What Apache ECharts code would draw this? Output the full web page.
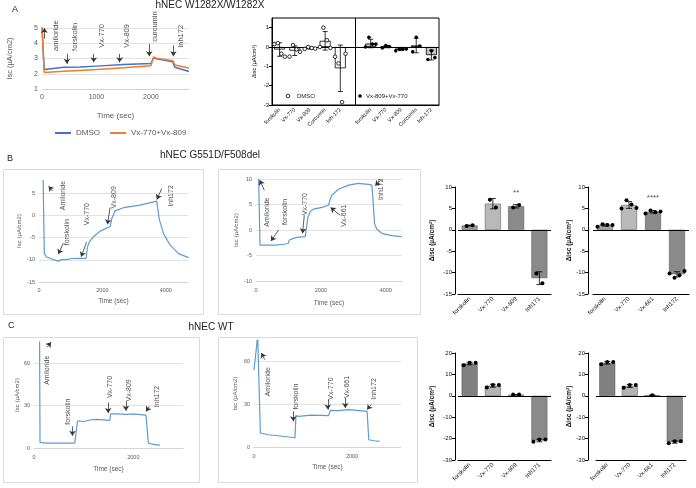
<!DOCTYPE html>
<html>
<head>
<meta charset="utf-8">
<script src="https://cdn.jsdelivr.net/npm/echarts@6/dist/echarts.min.js"></script>
<style>
html, body { margin: 0; padding: 0; background: #fff; }
#main { width: 696px; height: 488px; }
</style>
</head>
<body>
<div id="main"></div>
<script>
// ---------- A: W1282X/W1282X trace ----------
var aTime = [0, 40, 400, 700, 1000, 1500, 2000, 2050, 2100, 2400, 2440, 2700];
var aDmso = [5.1, 2.28, 2.42, 2.44, 2.5, 2.6, 2.67, 3.05, 2.98, 2.78, 2.42, 2.15];
var aVx = [5.0, 2.08, 2.16, 2.22, 2.28, 2.4, 2.53, 3.1, 3.02, 2.86, 2.58, 2.38];
var aNotes = ['amiloride', 'forskolin', 'Vx-770', 'Vx-809', 'curcumin', 'Inh172'];
var aNoteT = [260, 600, 1100, 1565, 2080, 2560];
var aNoteY = [3.5, 3.5, 3.7, 3.7, 4.1, 3.7];
var aArrows = [[45, 4.3, 45, 5.0], [457, 3.3, 457, 2.65], [950, 3.3, 950, 2.75], [1426, 3.3, 1426, 2.75], [1970, 3.95, 1970, 3.15], [2414, 3.85, 2414, 3.15]];

// ---------- A: delta Isc bars ----------
var abCats = ['forskolin', 'Vx-770', 'Vx-809', 'Curcumin', 'Inh-172'];
var abDmsoMean = [-0.13, -0.19, -0.06, 0.32, -1.1];
var abDmsoSd = [0.35, 0.25, 0.05, 0.48, 1.2];
var abDmsoPts = [[0.15, 0.2, -0.35, -0.5], [-0.5, 0.1, -0.12, -0.25], [-0.1, 0, -0.05, -0.08], [0.0, 1.0, 0.35, -0.05], [-0.5, -0.85, -2.85, -0.35]];
var abVxMean = [0.18, 0.02, -0.14, 0.08, -0.42];
var abVxSd = [0.22, 0.06, 0.04, 0.38, 0.25];
var abVxPts = [[0.0, 0.5, 0.15, 0.15], [-0.05, 0.08, 0.02], [-0.2, -0.12, -0.12, -0.1], [-0.25, 0.5, 0.05], [-0.65, -0.2, -0.55]];

// ---------- B: G551D/F508del traces ----------
var b1Time = [130, 168, 242, 453, 600, 642, 716, 874, 1032, 1295, 1485, 1527, 1590, 1716, 1927, 2138, 2243, 2296, 2400, 2664, 3190, 3717, 3738, 3801, 3928, 4138, 4402, 4717];
var b1Isc = [8.0, -8.6, -9.35, -9.95, -10.3, -10.7, -9.95, -9.95, -9.7, -9.65, -9.7, -7.1, -5.95, -4.8, -3.55, -2.8, -2.55, -0.7, 1.05, 1.75, 2.35, 3.25, 1.95, -1.05, -4.1, -6.7, -8.6, -9.5];
var b1Notes = ['Amiloride', 'forskolin', 'Vx-770', 'Vx-809', 'Inh172'];
var b1NoteT = [769, 874, 1527, 2380, 4160];
var b1NoteY = [1.2, -6.7, -2.2, 1.6, 2.0];
var b1Arrows = [[432, 5.5, 305, 6.6], [769, -6.2, 611, -8.7], [1500, -6, 1330, -9.3], [2243, 1.8, 2160, -2.0], [3875, 6.1, 3717, 3.6]];

var b2Time = [82, 123, 595, 903, 1000, 1026, 1160, 1262, 1518, 1570, 1600, 1672, 1775, 2031, 2237, 2278, 2339, 2544, 2852, 3160, 3468, 3570, 3601, 3653, 3724, 3878, 4186, 4494];
var b2Isc = [10, -2.95, -2.95, -2.75, -2.6, -1.95, -1.65, -1.45, -1.3, -1.3, 2.5, 3.6, 4.1, 4.45, 4.85, 5.9, 6.85, 8.0, 8.8, 9.15, 8.95, 8.8, 6.5, 1.3, 0.15, -0.65, -1.1, -1.3];
var b2Notes = ['Amiloride', 'forskolin', 'Vx-770', 'Vx-661', 'Inh172'];
var b2NoteT = [339, 903, 1518, 2719, 3848];
var b2NoteY = [0.65, 1.0, 2.9, 0.65, 5.9];
var b2Arrows = [[256, 7.8, 113, 9.8], [698, 0, 462, -2.15], [1488, 2.9, 1436, -0.65], [2596, 2.9, 2298, 4.4], [3858, 9.9, 3673, 8.7]];

// ---------- B: delta Isc bars ----------
var b3Cats = ['forskolin', 'Vx-770', 'Vx-809', 'Inh171'];
var b3Mean = [1.0, 6.1, 5.5, -11.3];
var b3Sd = [0.1, 1.2, 0.4, 1.5];
var b3Pts = [[0.9, 1.05], [7.0, 5.2], [5.2, 5.8], [-10.2, -12.5]];
var b4Cats = ['forskolin', 'Vx-770', 'Vx-661', 'Inh172'];
var b4Mean = [1.1, 5.8, 4.2, -10.4];
var b4Sd = [0.25, 0.8, 0.3, 0.6];
var b4Pts = [[0.7, 1.3, 1.1, 1.1], [5.0, 6.9, 5.9, 5.1], [3.8, 4.5, 4.1, 4.3], [-10.2, -11.2, -10.6, -9.6]];

// ---------- C: WT traces ----------
var c1Time = [112, 121, 249, 821, 855, 875, 922, 989, 1124, 1258, 1528, 1541, 1662, 1864, 1999, 2255, 2302, 2369, 2537];
var c1Isc = [80, 4.0, 3.5, 3.5, 4.0, 18.8, 19.3, 18.6, 19.8, 20.2, 19.5, 24.2, 24.2, 23.8, 24.2, 23.3, 3.5, 2.8, 2.1];
var c1Notes = ['Amiloride', 'forskolin', 'Vx-770', 'Vx-809', 'Inh172'];
var c1NoteT = [262, 686, 1528, 1911, 2470];
var c1NoteY = [44.7, 16.5, 35.3, 32.9, 28.9];
var c1Arrows = [[262, 71.3, 343, 74.8], [774, 15.3, 774, 8.7], [1494, 32.2, 1494, 24.7], [1851, 32.9, 1851, 26.4], [2322, 29.4, 2255, 25.9]];

var c2Time = [0, 75, 105, 130, 288, 493, 836, 856, 904, 1178, 1521, 1562, 1726, 1932, 2308, 2343, 2445, 2562];
var c2Isc = [54, 78, 78, 9.8, 8.6, 7.9, 6.5, 22, 21.5, 22.4, 22, 25.7, 25.5, 26.2, 25, 5.1, 4.4, 4.0];
var c2Notes = ['Amiloride', 'forskolin', 'Vx-770', 'Vx-661', 'Inh172'];
var c2NoteT = [288, 849, 1576, 1897, 2459];
var c2NoteY = [35.5, 26.2, 33.2, 34.3, 33.2];
var c2Arrows = [[219, 61.2, 151, 65.9], [801, 25, 801, 18], [1507, 33.2, 1507, 26.2], [1863, 34.3, 1863, 27.3], [2391, 29.7, 2308, 26.2]];

// ---------- C: delta Isc bars ----------
var c3Cats = ['forskolin', 'Vx-770', 'Vx-809', 'Inh171'];
var c3Mean = [15.1, 4.7, 0.5, -20.9];
var c3Sd = [0.6, 0.7, 0.05, 0.6];
var c3Pts = [[14.3, 15.5, 15.4], [3.9, 5.1, 5.1], [0.6, 0.6], [-21.5, -20.4, -20.4]];
var c4Cats = ['forskolin', 'Vx-770', 'Vx-661', 'Inh172'];
var c4Mean = [15.4, 4.6, 0.3, -21.6];
var c4Sd = [0.6, 0.7, 0, 0.55];
var c4Pts = [[14.7, 15.8, 15.8], [3.8, 5.0, 5.0], [0.3], [-22.2, -21.2, -21.2]];

var FONT = 'Liberation Sans, Arial, sans-serif';
var XL_TEXT = '#595959';
var TRACE_BLUE = '#5b9bd5';

var option = {
    animation: false,
    textStyle: { fontFamily: FONT },
    grid: [], xAxis: [], yAxis: [], series: [], graphic: [],
    legend: {
        data: ['DMSO', 'Vx-770+Vx-809'],
        left: 50, top: 124, icon: 'rect', itemWidth: 16, itemHeight: 2, itemGap: 10,
        textStyle: { fontSize: 8, color: XL_TEXT, fontFamily: FONT }
    }
};

function zip (t, v) {
    return t.map(function (x, i) { return [x, v[i]]; });
}

// Excel style trace chart
function traceChart (c) {
    var gi = option.grid.length;
    option.grid.push({ left: c.left, top: c.top, width: c.width, height: c.height });
    option.xAxis.push({
        gridIndex: gi, type: 'value', min: 0, max: c.xMax, interval: c.xInt,
        name: 'Time (sec)', nameLocation: 'middle', nameGap: c.xGap,
        nameTextStyle: { color: XL_TEXT, fontSize: c.nameFs, fontFamily: FONT },
        axisLine: { onZero: false, lineStyle: { color: '#d4d4d4' } },
        axisTick: { show: false }, splitLine: { show: false },
        axisLabel: {
            color: XL_TEXT, fontSize: c.tickFs, margin: c.xMargin, fontFamily: FONT,
            showMaxLabel: c.xMax % c.xInt === 0,
            formatter: function (v) { return String(v); }
        }
    });
    option.yAxis.push({
        gridIndex: gi, type: 'value', min: c.yMin, max: c.yMax, interval: c.yInt,
        name: 'Isc (µA/cm2)', nameLocation: 'middle', nameGap: c.yGap,
        nameTextStyle: { color: XL_TEXT, fontSize: c.nameFs - 0.5, fontFamily: FONT },
        axisLine: { show: false }, axisTick: { show: false }, splitLine: { show: false },
        axisLabel: { color: XL_TEXT, fontSize: c.tickFs, margin: 4, fontFamily: FONT, showMaxLabel: (c.yMax - c.yMin) % c.yInt === 0 }
    });
    // horizontal grid lines, one per tick above the bottom axis
    var gridLines = [];
    for (var v = c.yMin + c.yInt; v <= c.yMax; v += c.yInt) gridLines.push({ yAxis: v });
    c.lines.forEach(function (ln, k) {
        var s = {
            type: 'line', name: ln.name, xAxisIndex: gi, yAxisIndex: gi,
            data: zip(ln.t, ln.v), showSymbol: false, symbol: 'none',
            lineStyle: { color: ln.color, width: c.lw }, itemStyle: { color: ln.color }, z: 3
        };
        if (k === 0) {
            s.markLine = {
                silent: true, symbol: 'none', label: { show: false }, z: 1,
                lineStyle: { color: '#e2e2e2', width: 1, type: 'solid' }, data: gridLines
            };
        }
        option.series.push(s);
    });
    // arrows
    option.series.push({
        type: 'lines', coordinateSystem: 'cartesian2d', xAxisIndex: gi, yAxisIndex: gi,
        symbol: ['none', 'arrow'], symbolSize: 5, silent: true, z: 4,
        lineStyle: { color: '#333', width: 0.8, opacity: 1 },
        data: c.arrows.map(function (a) { return { coords: [[a[0], a[1]], [a[2], a[3]]] }; })
    });
    // rotated labels
    option.series.push({
        type: 'scatter', xAxisIndex: gi, yAxisIndex: gi, symbolSize: 1, silent: true, z: 6,
        itemStyle: { color: 'rgba(0,0,0,0)' },
        label: {
            show: true, formatter: '{b}', rotate: 90, position: 'inside', align: 'left', verticalAlign: 'middle',
            fontSize: c.noteFs || 7, color: '#222', fontFamily: FONT
        },
        data: c.notes.map(function (n, i) { return { name: n, value: [c.noteT[i], c.noteY[i]] }; })
    });
}

// error bars + dots, shared by the GraphPad style bar charts
function errorSeries (gi, cats, means, sds, cap) {
    var data = [];
    means.forEach(function (m, i) {
        if (m === '-' || m == null) return;
        data.push([cats[i], m - sds[i], m + sds[i]]);
    });
    option.series.push({
        type: 'custom', xAxisIndex: gi, yAxisIndex: gi, silent: true, z: 5,
        renderItem: function (params, api) {
            var lo = api.coord([api.value(0), api.value(1)]);
            var hi = api.coord([api.value(0), api.value(2)]);
            var st = { stroke: '#000', lineWidth: 0.8 };
            return {
                type: 'group', children: [
                    { type: 'line', shape: { x1: lo[0], y1: lo[1], x2: hi[0], y2: hi[1] }, style: st },
                    { type: 'line', shape: { x1: lo[0] - cap, y1: lo[1], x2: lo[0] + cap, y2: lo[1] }, style: st },
                    { type: 'line', shape: { x1: hi[0] - cap, y1: hi[1], x2: hi[0] + cap, y2: hi[1] }, style: st }
                ]
            };
        },
        data: data
    });
}

function dotSeries (gi, cats, pts, r, spread, hollow) {
    var data = [];
    pts.forEach(function (arr, i) {
        if (!arr) return;
        arr.forEach(function (v, j) { data.push([cats[i], v, j, arr.length]); });
    });
    option.series.push({
        type: 'custom', xAxisIndex: gi, yAxisIndex: gi, silent: true, z: 6,
        renderItem: function (params, api) {
            var p = api.coord([api.value(0), api.value(1)]);
            var dx = (api.value(2) - (api.value(3) - 1) / 2) * spread;
            return {
                type: 'circle', shape: { cx: p[0] + dx, cy: p[1], r: r },
                style: hollow ? { fill: '#fff', stroke: '#000', lineWidth: 0.8 } : { fill: '#000' }
            };
        },
        data: data
    });
}

// GraphPad style bar chart
function barChart (c) {
    var gi = option.grid.length;
    option.grid.push({ left: c.left, top: c.top, width: c.width, height: c.height });
    option.xAxis.push({
        gridIndex: gi, type: 'category', data: c.cats,
        axisLine: { onZero: false, lineStyle: { color: '#000', width: 1 } },
        axisTick: { alignWithLabel: true, length: 3, lineStyle: { color: '#000' } },
        axisLabel: { rotate: 45, interval: 0, fontSize: 6, color: '#111', margin: 4, fontFamily: FONT }
    });
    option.yAxis.push({
        gridIndex: gi, type: 'value', min: c.yMin, max: c.yMax, interval: c.yInt, offset: c.offset,
        name: 'Δisc (µA/cm²)', nameLocation: 'middle', nameGap: c.nameGap,
        nameTextStyle: { fontSize: 6.5, color: '#111', fontWeight: 'bold', fontFamily: FONT },
        axisLine: { show: true, lineStyle: { color: '#000' } },
        axisTick: { show: true, length: 3, lineStyle: { color: '#000' } },
        splitLine: { show: false },
        axisLabel: { fontSize: 6, color: '#111', margin: 3, fontFamily: FONT }
    });
    option.series.push({
        type: 'bar', xAxisIndex: gi, yAxisIndex: gi, barWidth: c.barWidth, z: 2,
        data: c.means.map(function (m, i) {
            return { value: m, itemStyle: { color: c.colors[i], borderColor: '#555', borderWidth: 0.5 } };
        }),
        markLine: {
            silent: true, symbol: 'none', label: { show: false },
            lineStyle: { color: '#000', width: 1, type: 'solid' }, data: [{ yAxis: 0 }]
        }
    });
    errorSeries(gi, c.cats, c.means, c.sds, 3);
    dotSeries(gi, c.cats, c.pts, 2, c.spread, false);
    if (c.sig) {
        option.series.push({
            type: 'scatter', xAxisIndex: gi, yAxisIndex: gi, symbolSize: 1, silent: true, z: 6,
            itemStyle: { color: 'rgba(0,0,0,0)' },
            label: { show: true, position: 'inside', formatter: c.sig, fontSize: 8, color: '#222', fontFamily: FONT },
            data: [[c.cats[c.sigIdx], c.sigY]]
        });
    }
}

// ---------- panel A ----------
traceChart({
    left: 42, top: 28, width: 147, height: 61,
    xMax: 2700, xInt: 1000, yMin: 1, yMax: 5, yInt: 1,
    xGap: 23, yGap: 28, xMargin: 5, tickFs: 7, nameFs: 8, lw: 1.5, noteFs: 7.5,
    lines: [
        { name: 'DMSO', t: aTime, v: aDmso, color: '#4472c4' },
        { name: 'Vx-770+Vx-809', t: aTime, v: aVx, color: '#ed7d31' }
    ],
    notes: aNotes, noteT: aNoteT, noteY: aNoteY, arrows: aArrows
});

// A bars: two groups separated by an empty slot
(function () {
    var cats = abCats.concat([' ']).concat(abCats.map(function (s) { return s + '\u200b'; }));
    var gi = option.grid.length;
    option.grid.push({ left: 272, top: 18, width: 167, height: 87, show: true, borderColor: '#000', borderWidth: 1 });
    option.xAxis.push({
        gridIndex: gi, type: 'category', data: cats,
        axisLine: { onZero: false, lineStyle: { color: '#000' } },
        axisTick: { alignWithLabel: true, length: 3, lineStyle: { color: '#000' }, interval: function (i) { return i !== 5; } },
        axisLabel: { rotate: 45, interval: 0, fontSize: 5.5, color: '#111', margin: 4, fontFamily: FONT }
    });
    option.yAxis.push({
        gridIndex: gi, type: 'value', min: -3, max: 1.5, interval: 1,
        name: 'Δisc (µA/cm²)', nameLocation: 'middle', nameGap: 15,
        nameTextStyle: { fontSize: 5.5, color: '#111', fontFamily: FONT },
        axisLine: { show: true, lineStyle: { color: '#000' } },
        axisTick: { show: true, length: 3, lineStyle: { color: '#000' } },
        splitLine: { show: false },
        axisLabel: { fontSize: 6, color: '#111', margin: 3, showMaxLabel: false, fontFamily: FONT }
    });
    var means = abDmsoMean.concat(['-']).concat(abVxMean);
    var sds = abDmsoSd.concat([0]).concat(abVxSd);
    option.series.push({
        type: 'bar', xAxisIndex: gi, yAxisIndex: gi, barWidth: 11, z: 2,
        data: means.map(function (m, i) {
            return { value: m, itemStyle: { color: i < 5 ? '#fff' : '#c4c4c4', borderColor: '#000', borderWidth: 0.8 } };
        }),
        markLine: {
            silent: true, symbol: 'none', label: { show: false },
            lineStyle: { color: '#000', width: 1, type: 'solid' },
            data: [{ yAxis: 0 }, { xAxis: 5 }]
        }
    });
    errorSeries(gi, cats, means, sds, 2.5);
    dotSeries(gi, cats, abDmsoPts.concat([null]), 1.8, 3.5, true);
    dotSeries(gi, cats, [null, null, null, null, null, null].concat(abVxPts), 1.8, 3.5, false);
})();

// ---------- panel B ----------
traceChart({
    left: 39, top: 180, width: 149, height: 102,
    xMax: 4700, xInt: 2000, yMin: -15, yMax: 8, yInt: 5,
    xGap: 16, yGap: 17, xMargin: 5, tickFs: 5.5, nameFs: 6.5, lw: 1.2,
    lines: [{ name: 'B1', t: b1Time, v: b1Isc, color: TRACE_BLUE }],
    notes: b1Notes, noteT: b1NoteT, noteY: b1NoteY, arrows: b1Arrows
});
traceChart({
    left: 256, top: 179, width: 146, height: 102,
    xMax: 4500, xInt: 2000, yMin: -10, yMax: 10, yInt: 5,
    xGap: 19, yGap: 17, xMargin: 6, tickFs: 5.5, nameFs: 6.5, lw: 1.2,
    lines: [{ name: 'B2', t: b2Time, v: b2Isc, color: TRACE_BLUE }],
    notes: b2Notes, noteT: b2NoteT, noteY: b2NoteY, arrows: b2Arrows
});
barChart({
    left: 458, top: 187, width: 93, height: 107, offset: 3, nameGap: 19,
    yMin: -15, yMax: 10, yInt: 5, barWidth: 16, spread: 6,
    cats: b3Cats, means: b3Mean, sds: b3Sd, pts: b3Pts,
    colors: ['#959595', '#b9b9b9', '#8a8a8a', '#8a8a8a'],
    sig: '**', sigIdx: 2, sigY: 8.6
});
barChart({
    left: 593, top: 187, width: 96, height: 107, offset: 5, nameGap: 15,
    yMin: -15, yMax: 10, yInt: 5, barWidth: 16, spread: 5,
    cats: b4Cats, means: b4Mean, sds: b4Sd, pts: b4Pts,
    colors: ['#a3a3a3', '#b9b9b9', '#8a8a8a', '#8a8a8a'],
    sig: '****', sigIdx: 2, sigY: 7.4
});

// ---------- panel C ----------
traceChart({
    left: 34, top: 342, width: 149, height: 106,
    xMax: 3000, xInt: 2000, yMin: 0, yMax: 75, yInt: 30,
    xGap: 18, yGap: 13, xMargin: 6, tickFs: 5.5, nameFs: 6.5, lw: 1.2,
    lines: [{ name: 'C1', t: c1Time, v: c1Isc, color: TRACE_BLUE }],
    notes: c1Notes, noteT: c1NoteT, noteY: c1NoteY, arrows: c1Arrows
});
traceChart({
    left: 254, top: 340, width: 147, height: 107,
    xMax: 3000, xInt: 2000, yMin: 0, yMax: 75, yInt: 30,
    xGap: 17, yGap: 16, xMargin: 6, tickFs: 5.5, nameFs: 6.5, lw: 1.2,
    lines: [{ name: 'C2', t: c2Time, v: c2Isc, color: TRACE_BLUE }],
    notes: c2Notes, noteT: c2NoteT, noteY: c2NoteY, arrows: c2Arrows
});
barChart({
    left: 458, top: 353, width: 93, height: 107, offset: 3, nameGap: 19,
    yMin: -30, yMax: 20, yInt: 10, barWidth: 16, spread: 6,
    cats: c3Cats, means: c3Mean, sds: c3Sd, pts: c3Pts,
    colors: ['#808080', '#b3b3b3', '#9a9a9a', '#8a8a8a']
});
barChart({
    left: 596, top: 353, width: 90, height: 107, offset: 8, nameGap: 14,
    yMin: -30, yMax: 20, yInt: 10, barWidth: 16, spread: 6,
    cats: c4Cats, means: c4Mean, sds: c4Sd, pts: c4Pts,
    colors: ['#808080', '#b3b3b3', '#9a9a9a', '#8a8a8a']
});

// ---------- titles, panel letters, chart boxes ----------
function txt (x, y, s, fs, align) {
    return { type: 'text', x: x, y: y, z: 10, silent: true,
        style: { text: s, fontSize: fs, fill: '#222', fontFamily: FONT, align: align || 'left', verticalAlign: 'middle' } };
}
function box (x, y, w, h) {
    return { type: 'rect', z: -1, silent: true, shape: { x: x + 0.5, y: y + 0.5, width: w, height: h },
        style: { fill: 'none', stroke: '#d9d9d9', lineWidth: 1 } };
}
option.graphic = [
    txt(12, 10, 'A', 9), txt(7, 159, 'B', 9), txt(8, 326, 'C', 9),
    txt(210, 5, 'hNEC W1282X/W1282X', 10, 'center'),
    txt(210, 155, 'hNEC G551D/F508del', 10, 'center'),
    txt(211, 327, 'hNEC WT', 10, 'center'),
    box(3, 169, 200, 145), box(218, 169, 202, 145),
    box(3, 337, 196, 145), box(218, 337, 199, 145),
    { type: 'circle', z: 10, silent: true, shape: { cx: 288, cy: 96, r: 1.8 }, style: { fill: '#fff', stroke: '#000', lineWidth: 0.8 } },
    txt(297, 96, 'DMSO', 6),
    { type: 'circle', z: 10, silent: true, shape: { cx: 360, cy: 96, r: 1.8 }, style: { fill: '#000' } },
    txt(366, 96, 'Vx-809+Vx-770', 6)
];

var chart = echarts.init(document.getElementById('main'));
chart.setOption(option);
</script>
</body>
</html>
